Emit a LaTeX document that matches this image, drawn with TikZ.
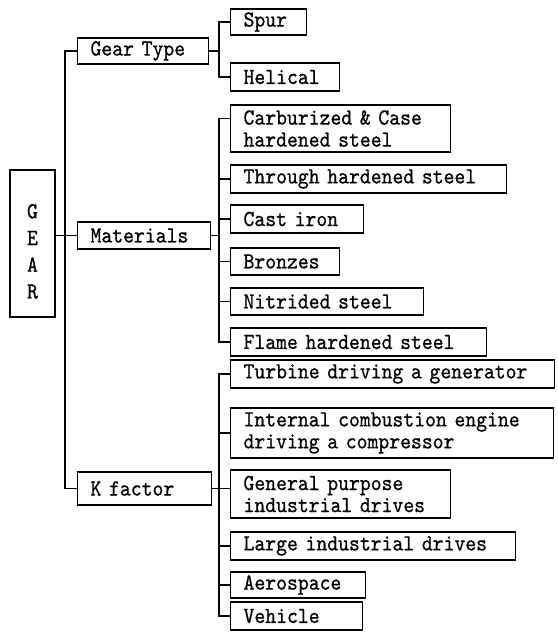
\documentclass[tikz,border=0pt]{standalone}
\usepackage{fontspec}
\newfontfamily\gfont{lmmono10-regular.otf}[FakeStretch=0.9,FakeBold=0.7]
\begin{document}
\begin{tikzpicture}[x=1pt,y=-1pt,line width=1.1pt,
  txt/.style={font=\gfont\fontsize{23}{22}\selectfont},
  box/.style={draw, txt, anchor=west, inner xsep=13pt, inner ysep=1pt, align=left},
  link/.style={draw, line width=1.1pt}]
\useasboundingbox (0,0) rectangle (557,637);
% root
\node[draw, minimum width=45pt, minimum height=147pt, align=center,
      font=\gfont\fontsize{23}{26.7}\selectfont] (gear) at (32.5,243.5)
      {\rule{0pt}{30pt}G\\E\\A\\R};
% level 1
\node[box, text width=105pt, minimum height=26pt] (gt)  at (77,51)    {Gear Type};
\node[box, text width=107pt, minimum height=27pt] (mat) at (77,235.5) {Materials};
\node[box, text width=108pt, minimum height=33pt] (kf)  at (77,488.5) {K factor};
% gear type
\node[box, text width=50pt,  minimum height=26pt] (spur) at (230,22) {Spur};
\node[box, text width=83pt,  minimum height=28pt] (hel)  at (230,77) {Helical};
% materials
\node[box, text width=194pt, minimum height=47pt] (carb)   at (230,128.5) {\mbox{Carburized \& Case}\\\mbox{hardened steel}};
\node[box, text width=250pt, minimum height=28pt] (thru)   at (230,179)   {\mbox{Through hardened steel}};
\node[box, text width=107pt, minimum height=28pt] (cast)   at (230,219)   {\mbox{Cast iron}};
\node[box, text width=83pt,  minimum height=27pt] (bronze) at (230,261.5) {Bronzes};
\node[box, text width=167pt, minimum height=27pt] (nitr)   at (230,301.5) {\mbox{Nitrided steel}};
\node[box, text width=230pt, minimum height=28pt] (flame)  at (230,342)   {\mbox{Flame hardened steel}};
% k factor
\node[box, text width=298pt, minimum height=28pt] (turb)  at (230,374) {\mbox{Turbine driving a generator}};
\node[box, text width=297pt, minimum height=50pt] (ice)   at (230,433) {\mbox{Internal combustion engine}\\\mbox{driving a compressor}};
\node[box, text width=194pt, minimum height=48pt] (gp)    at (230,494) {\mbox{General purpose}\\\mbox{industrial drives}};
\node[box, text width=259pt, minimum height=28pt] (large) at (230,546) {\mbox{Large industrial drives}};
\node[box, text width=109pt, minimum height=26pt] (aero)  at (230,585) {Aerospace};
\node[box, text width=106pt, minimum height=28pt] (veh)   at (230,616) {Vehicle};
% trunk
\coordinate (t)  at (65,0);
\coordinate (bx) at (219,0);
\draw (gt.west) -- (gt.west -| t) -- (kf.west -| t) -- (kf.west);
\draw (gear.east |- mat.west) -- (mat.west);
% gear type bracket
\draw (spur.west) -- (spur.west -| bx) -- (hel.west -| bx) -- (hel.west);
\draw (gt.east) -- (gt.east -| bx);
% materials bracket
\draw ([yshift=10pt]carb.west) -- ([yshift=10pt]carb.west -| bx) -- (flame.west -| bx) -- (flame.west);
\draw (mat.east) -- (mat.east -| bx);
\foreach \n in {thru,cast,bronze,nitr} \draw (\n.west -| bx) -- (\n.west);
% k factor bracket
\draw (turb.west) -- (turb.west -| bx) -- (veh.west -| bx) -- (veh.west);
\draw (kf.east) -- (gp.west |- kf.east);
\foreach \n in {ice,large,aero} \draw (\n.west -| bx) -- (\n.west);
\end{tikzpicture}
\end{document}
